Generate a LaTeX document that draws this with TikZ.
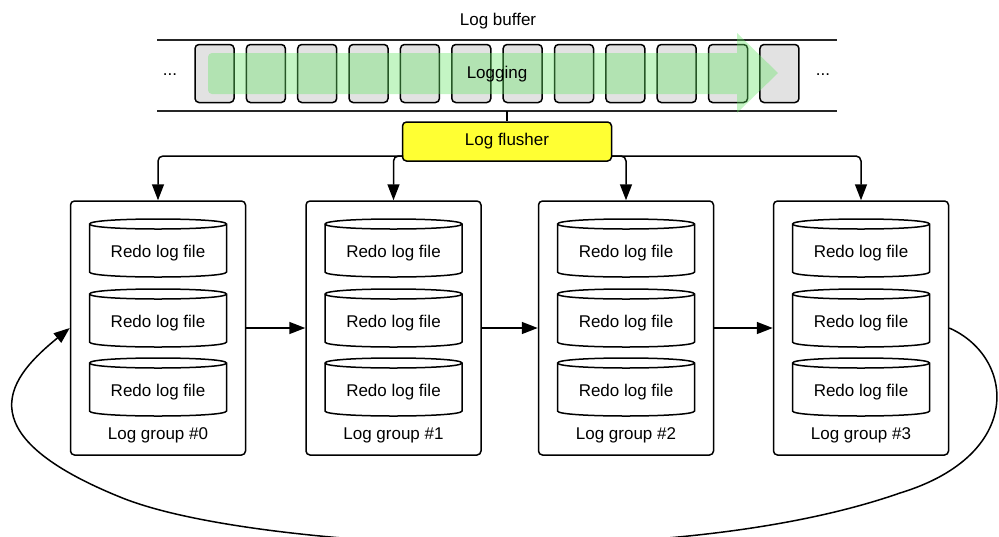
\documentclass[tikz,border=0pt]{standalone}
\usepackage{fontspec}
\setmainfont{Liberation Sans}
\usetikzlibrary{arrows.meta}
\definecolor{cellgray}{RGB}{226,226,226}
\definecolor{flowgreen}{RGB}{100,230,100}
\definecolor{flyellow}{RGB}{255,255,51}
\newcommand\redocyl[3]{%
  \filldraw[cylline] ({#2-68.5},{#3+5}) -- ({#2-68.5},{#3+53})
    .. controls ({#2-68.5},{#3+59.67}) and ({#2+68.5},{#3+59.67}) .. ({#2+68.5},{#3+53})
    -- ({#2+68.5},{#3+5})
    .. controls ({#2+68.5},{#3-1.67}) and ({#2-68.5},{#3-1.67}) .. cycle;
  \draw[cylline] ({#2-68.5},{#3+5})
    .. controls ({#2-68.5},{#3+11.67}) and ({#2+68.5},{#3+11.67}) .. ({#2+68.5},{#3+5});
  \node[txt] (#1) at (#2,{#3+34}) {Redo log file};
}
\begin{document}
\begin{tikzpicture}[x=1pt,y=-1pt,
  font=\fontsize{17}{20}\selectfont,
  line width=1.5pt,
  txt/.style={inner sep=0pt},
  cylline/.style={draw=black, fill=white, line width=1.5pt},
  cell/.style={draw=black, fill=cellgray, rounded corners=4pt, minimum width=39pt, minimum height=58pt, inner sep=0pt},
  flusher/.style={draw=black, fill=flyellow, rounded corners=4pt, minimum width=209pt, minimum height=39pt, inner sep=0pt},
  group/.style={draw=black, fill=white, rounded corners=4pt, minimum width=175pt, minimum height=254pt, inner sep=0pt},
  arr/.style={-{Triangle[length=16pt,width=12pt]}, line width=1.5pt},
  bufline/.style={line width=2pt, draw=black!85}
]
\useasboundingbox (0,0) rectangle (999,536);
\clip (0,0) rectangle (999,536);

% log buffer
\node[txt] (title) at (498,21) {Log buffer};
\draw[bufline] (157,40) -- (837,40);
\draw[bufline] (157,111) -- (837,111);
\foreach \i in {0,...,11} {
  \node[cell] (c\i) at ({214.5+51.36*\i},73.5) {};
}
\node[txt] (dl) at (170,75) {...};
\node[txt] (dr) at (823,75) {...};
\fill[flowgreen, opacity=0.38] (737,53) [rounded corners=4pt] -- (208,53) -- (208,94) [sharp corners] -- (737,94) -- (737,113) -- (778,73) -- (737,33) -- cycle;
\node[txt] (logging) at (497,74) {Logging};

% flusher
\coordinate (bufbot) at (507,111);
\node[flusher] (fl) at (507,141.5) {Log flusher};
\draw (bufbot) -- (fl.north);

% groups
\node[group] (g0) at (158,328) {};
\node[group] (g1) at (393.5,328) {};
\node[group] (g2) at (626,328) {};
\node[group] (g3) at (861,328) {};
\foreach \g/\x in {0/158,1/393.5,2/626,3/861} {
  \redocyl{r\g a}{\x}{219}
  \redocyl{r\g b}{\x}{289}
  \redocyl{r\g c}{\x}{358}
  \node[txt] (lbl\g) at (\x,435) {Log group \#\g};
}

% flusher connectors
\coordinate (fll) at (403,156);
\coordinate (flr) at (611,156);
\draw[arr, rounded corners=5pt] (fll) -| (g0.north);
\draw[arr, rounded corners=5pt] (fll) -| (g1.north);
\draw[arr, rounded corners=5pt] (flr) -| (g2.north);
\draw[arr, rounded corners=5pt] (flr) -| (g3.north);

% group chain
\draw[arr] (g0.east) -- (g1.west);
\draw[arr] (g1.east) -- (g2.west);
\draw[arr] (g2.east) -- (g3.west);

% loop back
\draw[arr] (g3.east) .. controls (1015,357) and (1025,455) .. (900,493)
  .. controls (780,535) and (620,545) .. (500,545)
  .. controls (380,545) and (200,530) .. (120,497)
  .. controls (-40,432) and (12,375) .. (g0.west);
\end{tikzpicture}
\end{document}
